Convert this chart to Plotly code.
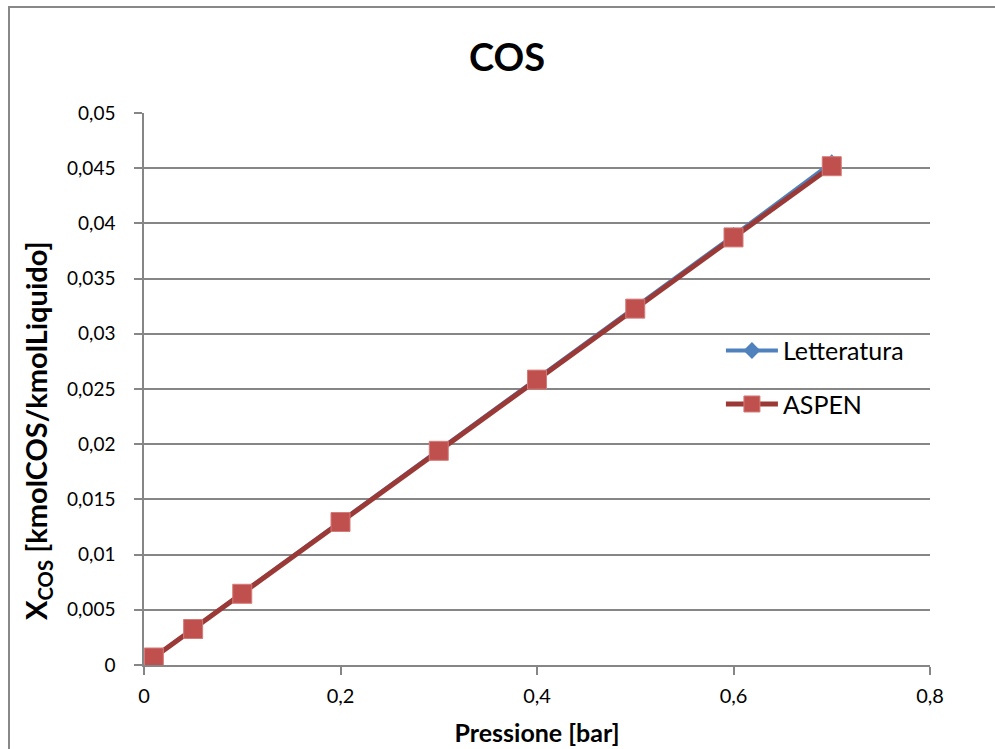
import plotly.graph_objects as go

# Pressione [bar]
pressione = [0.01, 0.05, 0.1, 0.2, 0.3, 0.4, 0.5, 0.6, 0.7]
# Frazione molare di COS nel liquido
letteratura = [0.00068, 0.00327, 0.0065, 0.0130, 0.0195, 0.0259, 0.03235, 0.0389, 0.0455]
aspen = [0.00068, 0.00326, 0.00645, 0.01295, 0.01940, 0.02585, 0.03228, 0.03873, 0.04518]

FONT = "Lato"
GRID = "#868686"

fig = go.Figure()
fig.add_trace(go.Scatter(
    x=pressione, y=letteratura, name="Letteratura", mode="lines+markers",
    line=dict(color="#4F81BD", width=4),
    marker=dict(symbol="diamond", size=13, color="#4F81BD", line=dict(width=0)),
    legendgroup="a",
))
fig.add_trace(go.Scatter(
    x=pressione, y=aspen, name="ASPEN", mode="lines+markers",
    line=dict(color="#9A3936", width=5),
    marker=dict(symbol="square", size=19, color="#C0504D",
                line=dict(color="#D47B78", width=1)),
    legendgroup="b",
))

fig.update_layout(
    width=995, height=749,
    margin=dict(l=144, r=65, t=113, b=84),
    paper_bgcolor="white", plot_bgcolor="white",
    separators=",.",
    font=dict(family=FONT, size=19, color="black"),
    title=dict(text="<b>COS</b>", font=dict(family=FONT, size=38, color="black"),
               x=507 / 995, xref="container", xanchor="center",
               y=1 - 58 / 749, yref="container", yanchor="middle"),
    showlegend=True,
    legend=dict(x=0.734, y=0.611, xanchor="left", yanchor="top",
                bgcolor="rgba(0,0,0,0)", font=dict(family=FONT, size=25),
                tracegroupgap=18, itemwidth=52),
    xaxis=dict(range=[0, 0.8], dtick=0.2, tick0=0, automargin=False,
               showgrid=False, zeroline=False,
               showline=True, linecolor=GRID, linewidth=1.5,
               ticks="outside", ticklen=8, tickcolor=GRID, tickwidth=1.5,
               ticklabelstandoff=4,
               tickfont=dict(family=FONT, size=20),
               title=dict(text="<b>Pressione [bar]</b>", standoff=19,
                          font=dict(family=FONT, size=25))),
    yaxis=dict(range=[0, 0.05], dtick=0.005, tick0=0, automargin=False,
               showgrid=True, gridcolor=GRID, gridwidth=1.5, zeroline=False,
               showline=True, linecolor=GRID, linewidth=1.5,
               ticks="outside", ticklen=8, tickcolor=GRID, tickwidth=1.5,
               ticklabelstandoff=15,
               tickfont=dict(family=FONT, size=19)),
)

# y-axis title, centred on the chart area rather than the plot area
fig.add_annotation(
    text="<b>X<sub>COS</sub> [kmolCOS/kmolLiquido]</b>",
    xref="paper", yref="paper",
    x=(37 - 144) / 786, y=(665 - 431) / 552,
    xanchor="center", yanchor="middle", textangle=-90, showarrow=False,
    font=dict(family=FONT, size=29, color="black"),
)

# chart area border
fig.add_shape(type="rect", xref="paper", yref="paper",
              x0=(9 - 144) / 786, x1=(1010 - 144) / 786,
              y0=(665 - 770) / 552, y1=(665 - 7) / 552,
              line=dict(color="#888888", width=2), fillcolor="rgba(0,0,0,0)",
              layer="below")

fig.write_html("out.html")
